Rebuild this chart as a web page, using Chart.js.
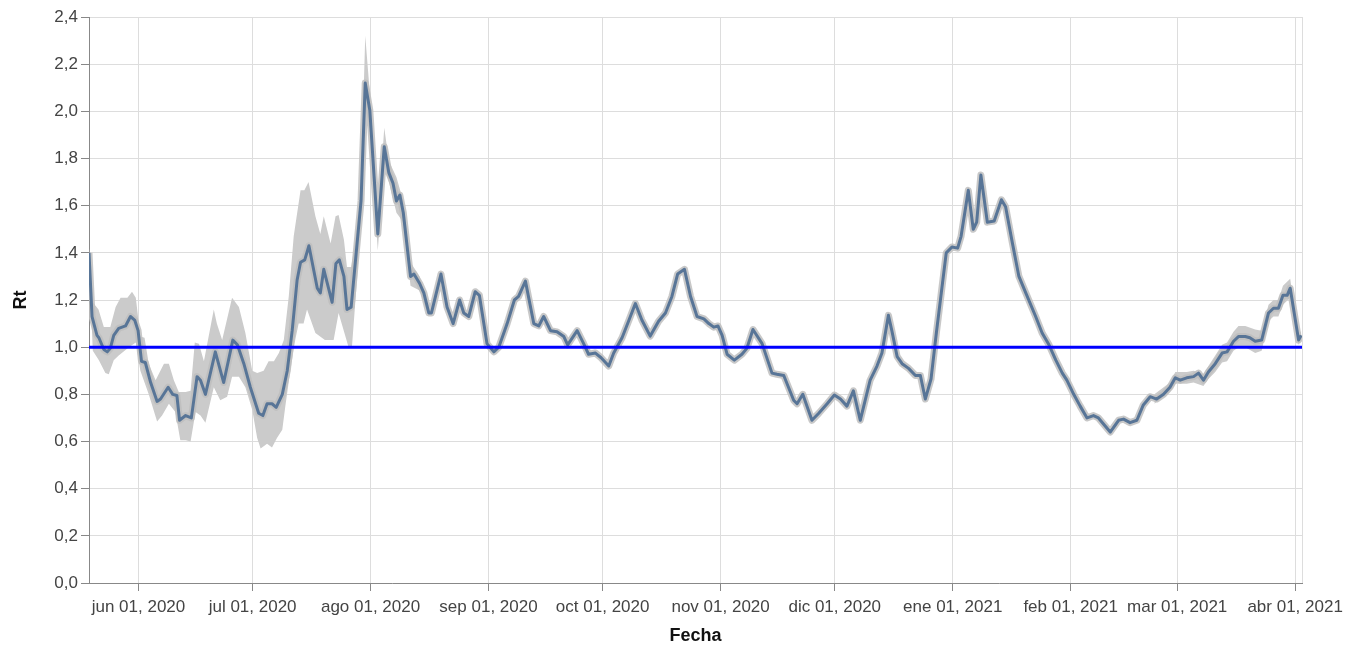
<!DOCTYPE html>
<html><head><meta charset="utf-8">
<script src="https://cdn.jsdelivr.net/npm/chart.js@4.4.0/dist/chart.umd.min.js"></script>
<style>html,body{margin:0;padding:0;background:#fff;}canvas{display:block;}</style>
</head><body>
<canvas id="c" width="1345" height="646"></canvas>
<script>
// Day offsets counted from 2020-05-19
const rtDays = [0,0.8,2.1,2.6,3.9,4.8,5.6,6.5,7.8,9.6,10.9,12.0,12.9,13.8,14.8,16.2,17.9,18.8,20.8,22.0,23.1,23.8,25.4,26.9,28.4,29.3,30.6,33.2,35.4,37.8,39.0,40.7,42.4,44.6,45.7,46.8,48.1,49.2,50.8,52.1,53.4,54.7,55.6,56.7,57.8,60.0,60.8,61.7,63.9,64.9,65.8,67.0,67.8,68.9,71.5,72.6,73.8,75.9,77.6,78.8,79.9,80.8,81.7,82.6,84.5,85.4,86.9,88.0,89.3,90.0,92.5,94.1,95.7,97.4,98.5,99.8,101.5,102.6,104.6,106.4,107.7,109.9,111.8,112.9,114.7,116.9,118.2,119.5,121.3,123.0,124.8,125.8,128.3,130.0,131.3,133.1,134.6,136.6,137.9,140.1,141.8,143.6,145.3,147.5,149.7,151.5,153.2,154.7,156.5,158.1,159.8,161.6,162.9,164.2,165.3,166.4,167.7,169.6,171.6,172.9,174.5,176.9,179.5,180.8,182.6,185.2,186.1,187.6,190.0,191.8,194.0,195.9,197.5,199.2,200.9,202.7,205.3,207.1,208.4,210.1,211.0,212.4,213.7,215.4,217.2,218.5,219.8,221.3,222.7,224.0,225.3,226.8,228.3,229.2,231.1,232.4,233.3,234.4,236.1,237.9,239.8,240.9,242.7,244.4,246.2,248.8,250.5,252.3,254.1,255.8,257.0,258.8,260.5,262.3,264.0,265.3,268.4,270.6,271.9,273.6,275.4,277.1,278.9,280.6,282.4,284.1,285.5,286.8,288.5,290.3,291.6,292.9,294.2,296.0,297.8,299.1,300.8,302.1,303.9,305.1,306.5,308.2,310.0,311.3,312.6,313.8,314.9,315.7,317.9,318.6];
const rtValues = [1.40,1.13,1.05,1.04,0.99,0.98,0.995,1.05,1.08,1.09,1.13,1.115,1.07,0.94,0.935,0.85,0.77,0.78,0.83,0.80,0.795,0.69,0.71,0.70,0.875,0.86,0.80,0.98,0.85,1.03,1.01,0.93,0.83,0.72,0.71,0.76,0.76,0.745,0.80,0.90,1.07,1.285,1.36,1.37,1.43,1.25,1.23,1.33,1.19,1.355,1.37,1.30,1.16,1.17,1.62,2.12,2.005,1.48,1.85,1.74,1.695,1.62,1.645,1.57,1.30,1.31,1.27,1.23,1.145,1.145,1.31,1.17,1.10,1.20,1.145,1.13,1.235,1.22,1.015,0.98,1.00,1.10,1.20,1.215,1.28,1.10,1.09,1.13,1.07,1.065,1.045,1.01,1.07,1.015,0.97,0.975,0.955,0.92,0.975,1.04,1.11,1.185,1.115,1.047,1.11,1.145,1.215,1.31,1.33,1.215,1.13,1.12,1.10,1.085,1.09,1.05,0.97,0.945,0.97,0.995,1.075,1.015,0.89,0.885,0.88,0.775,0.76,0.80,0.69,0.72,0.76,0.797,0.78,0.75,0.815,0.69,0.86,0.92,0.975,1.135,1.07,0.96,0.93,0.91,0.88,0.88,0.78,0.865,1.06,1.23,1.40,1.425,1.42,1.47,1.665,1.50,1.53,1.73,1.53,1.535,1.625,1.595,1.44,1.30,1.23,1.13,1.06,1.01,0.945,0.89,0.86,0.80,0.75,0.70,0.71,0.70,0.64,0.69,0.695,0.68,0.69,0.755,0.79,0.78,0.80,0.83,0.87,0.86,0.87,0.875,0.89,0.86,0.895,0.93,0.975,0.98,1.025,1.045,1.045,1.04,1.025,1.03,1.145,1.165,1.165,1.22,1.22,1.25,1.03,1.05];

// Confidence band, early period
const bandUpperDaysA = [0,1.0,2.5,3.9,5.6,7.0,8.3,10.1,11.3,12.3,13.5,14.6,15.7,17.5,19.7,21.0,22.3,23.6,25.4,26.7,27.8,28.9,30.2,32.8,33.6,35.0,37.6,39.4,41.1,42.9,44.2,45.9,47.2,48.6,49.9,51.2,52.5,53.8,55.6,56.6,57.7,59.5,60.8,61.7,63.5,64.8,65.6,67.0,67.8,68.9,70.0,71.5,72.6,73.8,75.9,77.6,78.8,80.8,82.6,84.5,86.9,89.3];
const bandUpperA = [1.42,1.19,1.16,1.085,1.085,1.17,1.21,1.21,1.235,1.21,1.045,1.04,0.93,0.86,0.93,0.93,0.86,0.81,0.81,0.815,1.02,1.015,0.94,1.16,1.10,1.03,1.21,1.17,1.06,0.90,0.89,0.90,0.94,0.94,0.975,1.03,1.215,1.47,1.665,1.665,1.70,1.555,1.48,1.555,1.44,1.555,1.56,1.455,1.34,1.34,1.45,1.70,2.32,2.08,1.53,1.93,1.79,1.72,1.62,1.36,1.30,1.16];
const bandLowerDaysA = [0,1.0,2.6,4.3,5.2,6.5,7.8,10.5,12.3,13.5,15.7,17.9,19.2,21.0,22.7,24.0,25.4,26.7,28.0,29.3,30.6,32.8,34.5,36.3,37.6,39.4,41.1,42.9,44.2,45.1,46.8,48.1,49.4,50.8,51.6,52.9,54.2,55.1,56.4,57.3,59.5,62.0,64.3,65.6,68.3,69.1,70.5,71.5,72.6,73.8,75.9,77.6,78.8,80.8,82.6,84.5,86.9,89.3];
const bandLowerA = [1.36,0.985,0.945,0.89,0.885,0.945,0.965,1.0,1.02,0.90,0.80,0.685,0.71,0.76,0.725,0.605,0.605,0.60,0.725,0.71,0.68,0.83,0.775,0.79,0.875,0.875,0.83,0.735,0.615,0.57,0.59,0.575,0.615,0.65,0.75,0.90,1.03,1.10,1.10,1.16,1.06,1.03,1.03,1.145,0.995,1.0,1.30,1.56,2.02,1.92,1.41,1.78,1.70,1.57,1.53,1.26,1.24,1.13];

// Confidence band, final weeks
const bandDaysB = [280,284.1,285.5,288.5,290.3,292.9,294.2,296.0,297.8,299.1,300.8,302.1,303.9,306.5,308.2,310.0,311.3,312.6,313.8,315.7,317.9,318.6];
const bandUpperB = [0.80,0.85,0.895,0.895,0.90,0.885,0.92,0.965,1.01,1.02,1.065,1.09,1.09,1.075,1.07,1.18,1.20,1.20,1.26,1.29,1.05,1.07];
const bandLowerB = [0.76,0.81,0.845,0.845,0.85,0.835,0.865,0.895,0.935,0.94,0.985,1.0,1.0,0.975,0.985,1.11,1.13,1.13,1.18,1.21,1.01,1.03];

const referenceValue = 1.0;
const tickDays = [13,43,74,105,135,166,196,227,258,286,317];
const tickLabels = ['jun 01, 2020','jul 01, 2020','ago 01, 2020','sep 01, 2020','oct 01, 2020','nov 01, 2020','dic 01, 2020','ene 01, 2021','feb 01, 2021','mar 01, 2021','abr 01, 2021'];
const yTickValues = [0,0.2,0.4,0.6,0.8,1.0,1.2,1.4,1.6,1.8,2.0,2.2,2.4];
const xMin = 0, xMax = 318.8;

const pts = (xs, ys) => xs.map((x, i) => ({x: x, y: ys[i]}));
const FONT = '"Liberation Sans", Arial, Helvetica, sans-serif';
const BAND = '#cbcbcb';
const NONE = 'rgba(0,0,0,0)';

const frame = {
  id: 'frame',
  beforeDatasetsDraw(chart) {
    const {ctx, chartArea: a} = chart;
    ctx.save();
    ctx.strokeStyle = '#dddddd';
    ctx.lineWidth = 1;
    ctx.beginPath();
    ctx.moveTo(Math.round(a.right) + 0.5, a.top);
    ctx.lineTo(Math.round(a.right) + 0.5, a.bottom);
    ctx.stroke();
    ctx.restore();
  }
};

new Chart(document.getElementById('c'), {
  type: 'line',
  data: {
    datasets: [
      {data: pts(bandUpperDaysA, bandUpperA), borderColor: NONE, borderWidth: 0, backgroundColor: BAND, fill: '+1', order: 5},
      {data: pts(bandLowerDaysA, bandLowerA), borderColor: NONE, borderWidth: 0, fill: false, order: 5},
      {data: pts(bandDaysB, bandUpperB), borderColor: NONE, borderWidth: 0, backgroundColor: BAND, fill: '+1', order: 5},
      {data: pts(bandDaysB, bandLowerB), borderColor: NONE, borderWidth: 0, fill: false, order: 5},
      {data: pts(rtDays, rtValues), borderColor: 'rgba(190,190,190,0.85)', borderWidth: 7, fill: false, order: 3, borderJoinStyle: 'round'},
      {data: pts(rtDays, rtValues), borderColor: '#587597', borderWidth: 3, fill: false, order: 2, borderJoinStyle: 'round'},
      {data: [{x: xMin, y: referenceValue}, {x: xMax, y: referenceValue}], borderColor: '#0000ff', borderWidth: 3, fill: false, order: 1}
    ]
  },
  options: {
    responsive: false,
    animation: false,
    devicePixelRatio: 1,
    layout: {padding: {left: 0, right: 43, top: 17, bottom: 0}},
    elements: {point: {radius: 0}, line: {tension: 0}},
    plugins: {legend: {display: false}, tooltip: {enabled: false}},
    scales: {
      x: {
        type: 'linear', min: xMin, max: xMax,
        afterBuildTicks: s => { s.ticks = tickDays.map(v => ({value: v})); },
        afterFit: s => { s.height = 63; s.paddingLeft = 0; s.paddingRight = 0; },
        ticks: {autoSkip: false, maxRotation: 0, padding: 6, color: '#444',
          font: {family: FONT, size: 17},
          callback: v => tickLabels[tickDays.indexOf(v)]},
        grid: {color: '#dddddd', tickColor: '#888888', tickLength: 8},
        border: {color: '#888888'},
        title: {display: true, text: 'Fecha', color: '#111', font: {family: FONT, size: 18, weight: 'bold', lineHeight: 1.1}, padding: {top: 0, bottom: 0}}
      },
      y: {
        min: 0, max: 2.4,
        afterBuildTicks: s => { s.ticks = yTickValues.map(v => ({value: v})); },
        afterFit: s => { s.width = 89; s.paddingTop = 0; s.paddingBottom = 0; },
        ticks: {padding: 3, color: '#444', font: {family: FONT, size: 17},
          callback: v => v.toFixed(1).replace('.', ',')},
        grid: {color: '#dddddd', tickColor: '#888888', tickLength: 8},
        border: {color: '#888888'},
        title: {display: true, text: 'Rt', color: '#111', font: {family: FONT, size: 18, weight: 'bold'}, padding: {top: 10, bottom: 0}}
      }
    }
  },
  plugins: [frame]
});
</script>
</body></html>
